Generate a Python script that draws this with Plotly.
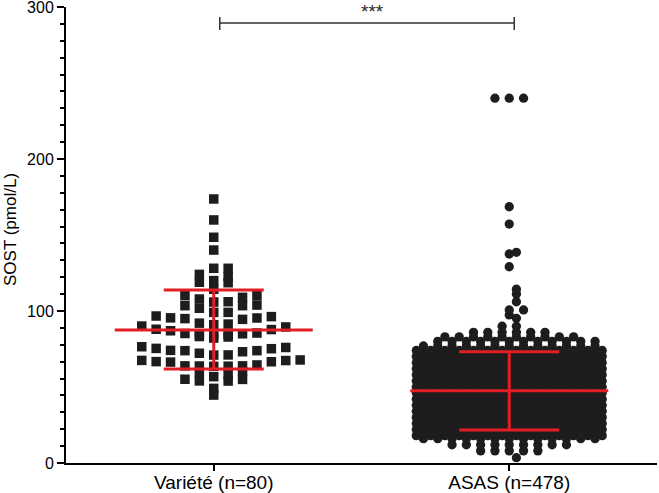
import numpy as np
import plotly.graph_objects as go

# ---------------- data ----------------
groups = ["Variété (n=80)", "ASAS (n=478)"]

variete_values = [
    173.7, 159.9, 148.5, 140.1, 128.1, 128.1, 124.1, 122.6, 118.9, 118.6,
    120.0, 114.3, 110.1, 107.9, 109.0, 110.1, 105.9, 103.5, 101.8, 99.1,
    99.1, 103.5, 103.9, 106.1, 96.7, 95.5, 95.0, 94.5, 95.4, 96.3,
    91.4, 90.1, 89.5, 91.0, 84.5, 85.0, 84.7, 82.2, 87.8, 87.0,
    88.0, 82.9, 83.2, 85.2, 84.9, 85.5, 73.9, 73.2, 71.1, 76.5,
    75.4, 75.2, 76.0, 71.0, 72.2, 73.9, 74.1, 63.8, 63.6, 63.9,
    67.8, 67.5, 66.6, 66.4, 66.7, 67.4, 64.5, 63.7, 63.9, 60.2,
    54.0, 59.6, 53.9, 55.1, 56.8, 58.2, 55.0, 49.1, 44.7, 92.0,
]

# ASAS: value levels and how many points sit at each level
asas_levels = [3.5, 8, 12,
               16, 18, 20, 22, 24, 26, 28, 30, 32, 34, 36, 38, 40, 42, 44,
               46, 48, 50, 52, 54, 56, 58, 60, 62, 64, 66, 68, 70, 72, 74,
               77, 80, 83, 86, 90,
               95.2, 97.4, 100.7, 106.1, 111.2, 114.3, 129.1, 137.5, 138.6,
               157.2, 168.6, 240]
asas_counts = [1, 5, 9,
               13, 14, 13, 14, 13, 14, 13, 14, 13, 14, 13, 14, 13, 14, 13,
               14, 13, 14, 13, 14, 13, 14, 13, 14, 13, 14, 13, 14, 13, 14,
               13, 12, 10, 6, 2,
               1, 1, 2, 1, 1, 1, 1, 1, 1,
               1, 1, 3]

means = [87.5, 47.6]
sd_upper = [113.8, 73.2]
sd_lower = [61.8, 21.7]
y_ticks = [0, 100, 200, 300]
signif_label = "***"

# ---------------- layout helpers ----------------
W, H = 659, 493
ML, MR, MT, MB = 66, 2, 7, 30
PX_PER_UNIT = (W - ML - MR) / 2.0  # x range is [-0.5, 1.5]


def swarm(values, center, bin_h, step_px, max_cols, stagger):
    vals = np.sort(np.asarray(values, float))
    bins = {}
    for v in vals:
        bins.setdefault(int(np.floor(v / bin_h + 1e-9)), []).append(v)
    hw = (max_cols - 1) / 2.0 * step_px
    xs, ys = [], []
    for b, vs in sorted(bins.items()):
        n = len(vs)
        if n > max_cols:
            offs_px = list(np.linspace(-hw, hw, n))
        else:
            half = stagger and (b % 2 == 1)
            offs = []
            k = 0
            while len(offs) < n:
                if half:
                    offs.append(k + 0.5)
                    if len(offs) < n:
                        offs.append(-(k + 0.5))
                else:
                    if k == 0:
                        offs.append(0.0)
                    else:
                        offs.append(float(k))
                        if len(offs) < n:
                            offs.append(-float(k))
                k += 1
            offs_px = [o * step_px for o in offs]
        for v, o in zip(vs, offs_px):
            xs.append(center + o / PX_PER_UNIT)
            ys.append(v)
    return xs, ys


asas_values = np.repeat(asas_levels, asas_counts)

vx, vy = swarm(variete_values, 0, 7.0, 14.4, 13, False)
ax_, ay_ = swarm(asas_values, 1, 2.0, 14.3, 14, True)

RED = "rgb(226,30,36)"
DARK = "#1e1c1d"

fig = go.Figure()
fig.add_trace(go.Scatter(x=vx, y=vy, mode="markers",
                         marker=dict(symbol="square", size=9.5, color=DARK,
                                     line=dict(width=0)),
                         hoverinfo="y", showlegend=False))
fig.add_trace(go.Scatter(x=ax_, y=ay_, mode="markers",
                         marker=dict(symbol="circle", size=9.3, color=DARK,
                                     line=dict(width=0)),
                         hoverinfo="y", showlegend=False))

mean_half = 99 / PX_PER_UNIT
cap_half = 50 / PX_PER_UNIT
for i in range(len(groups)):
    c = i
    xs = [c - mean_half, c + mean_half, None,
          c - cap_half, c + cap_half, None,
          c - cap_half, c + cap_half, None,
          c, c]
    ys = [means[i], means[i], None,
          sd_upper[i], sd_upper[i], None,
          sd_lower[i], sd_lower[i], None,
          sd_lower[i], sd_upper[i]]
    fig.add_trace(go.Scatter(x=xs, y=ys, mode="lines",
                             line=dict(color=RED, width=3),
                             hoverinfo="skip", showlegend=False))

# significance bracket
bx0, bx1 = 6 / PX_PER_UNIT, 1 + 5 / PX_PER_UNIT
by, by_lo, by_hi = 289.5, 284.9, 293.4
bracket = dict(type="line", xref="x", yref="y", line=dict(color="#333333", width=1.5))
fig.add_shape(x0=bx0, x1=bx1, y0=by, y1=by, **bracket)
fig.add_shape(x0=bx0, x1=bx0, y0=by_lo, y1=by_hi, **bracket)
fig.add_shape(x0=bx1, x1=bx1, y0=by_lo, y1=by_hi, **bracket)
fig.add_annotation(x=(372 - ML) / PX_PER_UNIT - 0.5, xref="x",
                   y=1 + (MT + 1) / (H - MT - MB), yref="paper",
                   text=signif_label, showarrow=False, yanchor="top",
                   font=dict(size=19, color="#2a2a2a"))

# y-axis title
fig.add_annotation(x=(10 - ML) / (W - ML - MR), xref="paper",
                   y=(463 - 230) / 456, yref="paper",
                   text="SOST (pmol/L)", textangle=-90, showarrow=False,
                   xanchor="center", yanchor="middle",
                   font=dict(size=17, color="black"))

FONT = "Liberation Sans, Arial, sans-serif"
fig.update_layout(
    width=W, height=H,
    margin=dict(l=ML, r=MR, t=MT, b=MB, autoexpand=False),
    paper_bgcolor="white", plot_bgcolor="white",
    font=dict(family=FONT, color="black"),
    xaxis=dict(range=[-0.5, 1.5], tickvals=[0, 1], ticktext=groups,
               showline=True, linecolor="black", linewidth=2,
               ticks="outside", ticklen=6, tickwidth=2, tickcolor="black",
               showgrid=False, zeroline=False, tickfont=dict(size=19),
               automargin=False, ticklabelstandoff=-5,
               ticklabeloverflow="allow"),
    yaxis=dict(range=[0, 300], tickvals=y_ticks,
               showline=True, linecolor="black", linewidth=2,
               ticks="outside", ticklen=7, tickwidth=2, tickcolor="black",
               showgrid=False, zeroline=False, tickfont=dict(size=16),
               automargin=False, ticklabeloverflow="allow",
               minor=dict(dtick=100 / 9, tick0=0, ticks="outside", ticklen=4,
                          tickwidth=2, tickcolor="black", showgrid=False)),
)

fig.write_html("out.html",
               config={"displayModeBar": False},
               post_script="document.body.style.margin='0px';"
                           "document.body.style.overflow='hidden';")
